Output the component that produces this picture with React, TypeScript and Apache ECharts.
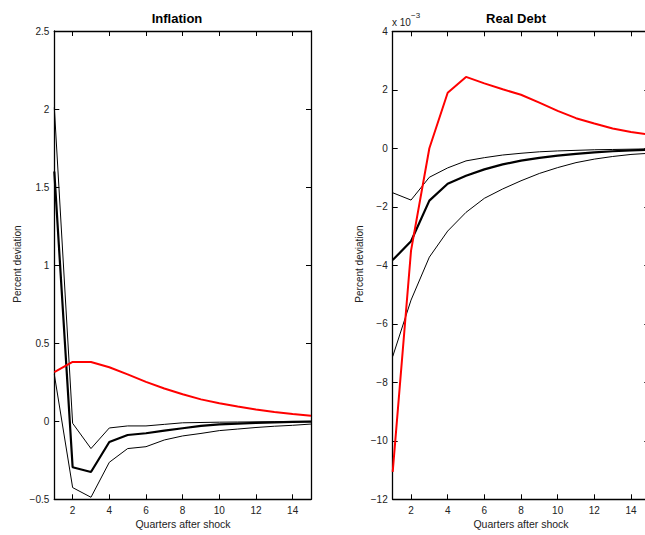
import React, { useEffect, useRef } from "react";
import * as echarts from "echarts";

const quarters = [1, 2, 3, 4, 5, 6, 7, 8, 9, 10, 11, 12, 13, 14, 15];

// Inflation (percent deviation)
const inflRed = [0.314, 0.38, 0.38, 0.346, 0.3, 0.252, 0.21, 0.173, 0.14, 0.115, 0.094, 0.075, 0.06, 0.047, 0.036];
const inflMedian = [1.6, -0.295, -0.325, -0.133, -0.088, -0.077, -0.06, -0.045, -0.03, -0.02, -0.015, -0.01, -0.007, -0.004, -0.002];
const inflUpper = [2.01, -0.013, -0.175, -0.043, -0.03, -0.03, -0.02, -0.01, -0.008, -0.006, -0.005, -0.004, -0.003, -0.002, -0.001];
const inflLower = [0.3, -0.425, -0.487, -0.263, -0.175, -0.163, -0.12, -0.094, -0.078, -0.06, -0.05, -0.04, -0.032, -0.026, -0.018];

// Real Debt (x 10^-3)
const debtRed = [-11.06, -3.5, 0.0, 1.9, 2.44, 2.22, 2.02, 1.83, 1.56, 1.28, 1.03, 0.85, 0.68, 0.56, 0.47];
const debtMedian = [-3.82, -3.18, -1.79, -1.21, -0.94, -0.72, -0.55, -0.42, -0.33, -0.25, -0.19, -0.14, -0.1, -0.07, -0.05];
const debtUpper = [-1.52, -1.77, -0.99, -0.67, -0.43, -0.32, -0.23, -0.17, -0.12, -0.09, -0.07, -0.05, -0.04, -0.03, -0.02];
const debtLower = [-7.12, -5.19, -3.72, -2.83, -2.19, -1.71, -1.39, -1.11, -0.86, -0.66, -0.49, -0.37, -0.28, -0.21, -0.17];

const xTicks = [2, 4, 6, 8, 10, 12, 14];
const inflTicks = [-0.5, 0, 0.5, 1, 1.5, 2, 2.5];
const debtTicks = [-12, -10, -8, -6, -4, -2, 0, 2, 4];

const FONT = "'Liberation Sans', Arial, Helvetica, sans-serif";

const pairs = (ys: number[]) => quarters.map((q, i) => [q, ys[i]]);
const fmt = (v: number) => String(v).replace("-", "\u2212");

export default function App() {
  const ref = useRef<HTMLDivElement>(null);

  useEffect(() => {
    if (!ref.current) return;
    const chart = echarts.init(ref.current, undefined, { renderer: "svg" });

    const grids = [
      { left: 54.3, top: 31, width: 256.7, height: 468.3, outerBoundsMode: "none", containLabel: false },
      { left: 392.7, top: 31.3, width: 256.6, height: 468, outerBoundsMode: "none", containLabel: false },
    ];

    const xAxisBase = (gridIndex: number, position: "bottom" | "top", labels: boolean) => ({
      type: "value",
      gridIndex,
      position,
      min: 1,
      max: 15,
      splitLine: { show: false },
      axisLine: { show: true, onZero: false, lineStyle: { color: "#000", width: 1.3 } },
      axisTick: { show: true, inside: true, length: 5, customValues: xTicks, lineStyle: { color: "#000" } },
      axisLabel: {
        show: labels,
        customValues: xTicks,
        color: "#222",
        fontFamily: FONT,
        fontSize: 10,
        margin: 6,
      },
    });

    const yAxisBase = (
      gridIndex: number,
      position: "left" | "right",
      labels: boolean,
      ticks: number[],
      interval: number
    ) => ({
      type: "value",
      gridIndex,
      position,
      min: ticks[0],
      max: ticks[ticks.length - 1],
      interval,
      splitLine: { show: false },
      axisLine: { show: true, onZero: false, lineStyle: { color: "#000", width: 1.3 } },
      axisTick: { show: true, inside: true, length: 5, lineStyle: { color: "#000" } },
      axisLabel: {
        show: labels,
        color: "#222",
        fontFamily: FONT,
        fontSize: 10,
        margin: 5,
        formatter: fmt,
      },
    });

    const line = (data: number[], xi: number, yi: number, color: string, width: number, z: number) => ({
      type: "line",
      xAxisIndex: xi,
      yAxisIndex: yi,
      data: pairs(data),
      showSymbol: false,
      symbol: "none",
      z,
      lineStyle: { color, width },
    });

    chart.setOption({
      animation: false,
      backgroundColor: "#fff",
      grid: grids,
      xAxis: [
        xAxisBase(0, "bottom", true),
        xAxisBase(0, "top", false),
        xAxisBase(1, "bottom", true),
        xAxisBase(1, "top", false),
      ],
      yAxis: [
        yAxisBase(0, "left", true, inflTicks, 0.5),
        yAxisBase(0, "right", false, inflTicks, 0.5),
        yAxisBase(1, "left", true, debtTicks, 2),
        yAxisBase(1, "right", false, debtTicks, 2),
      ],
      series: [
        line(inflUpper, 0, 0, "#000", 1, 2),
        line(inflLower, 0, 0, "#000", 1, 2),
        line(inflMedian, 0, 0, "#000", 2.2, 3),
        line(inflRed, 0, 0, "#ff0000", 2, 4),
        line(debtUpper, 2, 2, "#000", 1, 2),
        line(debtLower, 2, 2, "#000", 1, 2),
        line(debtMedian, 2, 2, "#000", 2.2, 3),
        line(debtRed, 2, 2, "#ff0000", 2, 4),
      ],
      graphic: [
        {
          type: "text",
          x: 177,
          y: 18,
          style: { text: "Inflation", font: `bold 13px ${FONT}`, fill: "#000", align: "center", verticalAlign: "middle" },
        },
        {
          type: "text",
          x: 516,
          y: 18,
          style: { text: "Real Debt", font: `bold 13px ${FONT}`, fill: "#000", align: "center", verticalAlign: "middle" },
        },
        {
          type: "text",
          x: 392,
          y: 22,
          style: { text: "x 10", font: `10px ${FONT}`, fill: "#222", align: "left", verticalAlign: "middle" },
        },
        {
          type: "text",
          x: 411,
          y: 15,
          style: { text: "\u22123", font: `8px ${FONT}`, fill: "#222", align: "left", verticalAlign: "middle" },
        },
        {
          type: "text",
          x: 17,
          y: 264,
          rotation: Math.PI / 2,
          style: { text: "Percent deviation", font: `10px ${FONT}`, fill: "#222", align: "center", verticalAlign: "middle" },
        },
        {
          type: "text",
          x: 359,
          y: 264,
          rotation: Math.PI / 2,
          style: { text: "Percent deviation", font: `10px ${FONT}`, fill: "#222", align: "center", verticalAlign: "middle" },
        },
        {
          type: "text",
          x: 183,
          y: 524,
          style: { text: "Quarters after shock", font: `10.5px ${FONT}`, fill: "#222", align: "center", verticalAlign: "middle" },
        },
        {
          type: "text",
          x: 521,
          y: 524,
          style: { text: "Quarters after shock", font: `10.5px ${FONT}`, fill: "#222", align: "center", verticalAlign: "middle" },
        },
      ],
    });

    return () => chart.dispose();
  }, []);

  return (
    <div
      ref={ref}
      style={{ position: "fixed", left: 0, top: 0, width: 645, height: 535, overflow: "hidden" }}
    />
  );
}
